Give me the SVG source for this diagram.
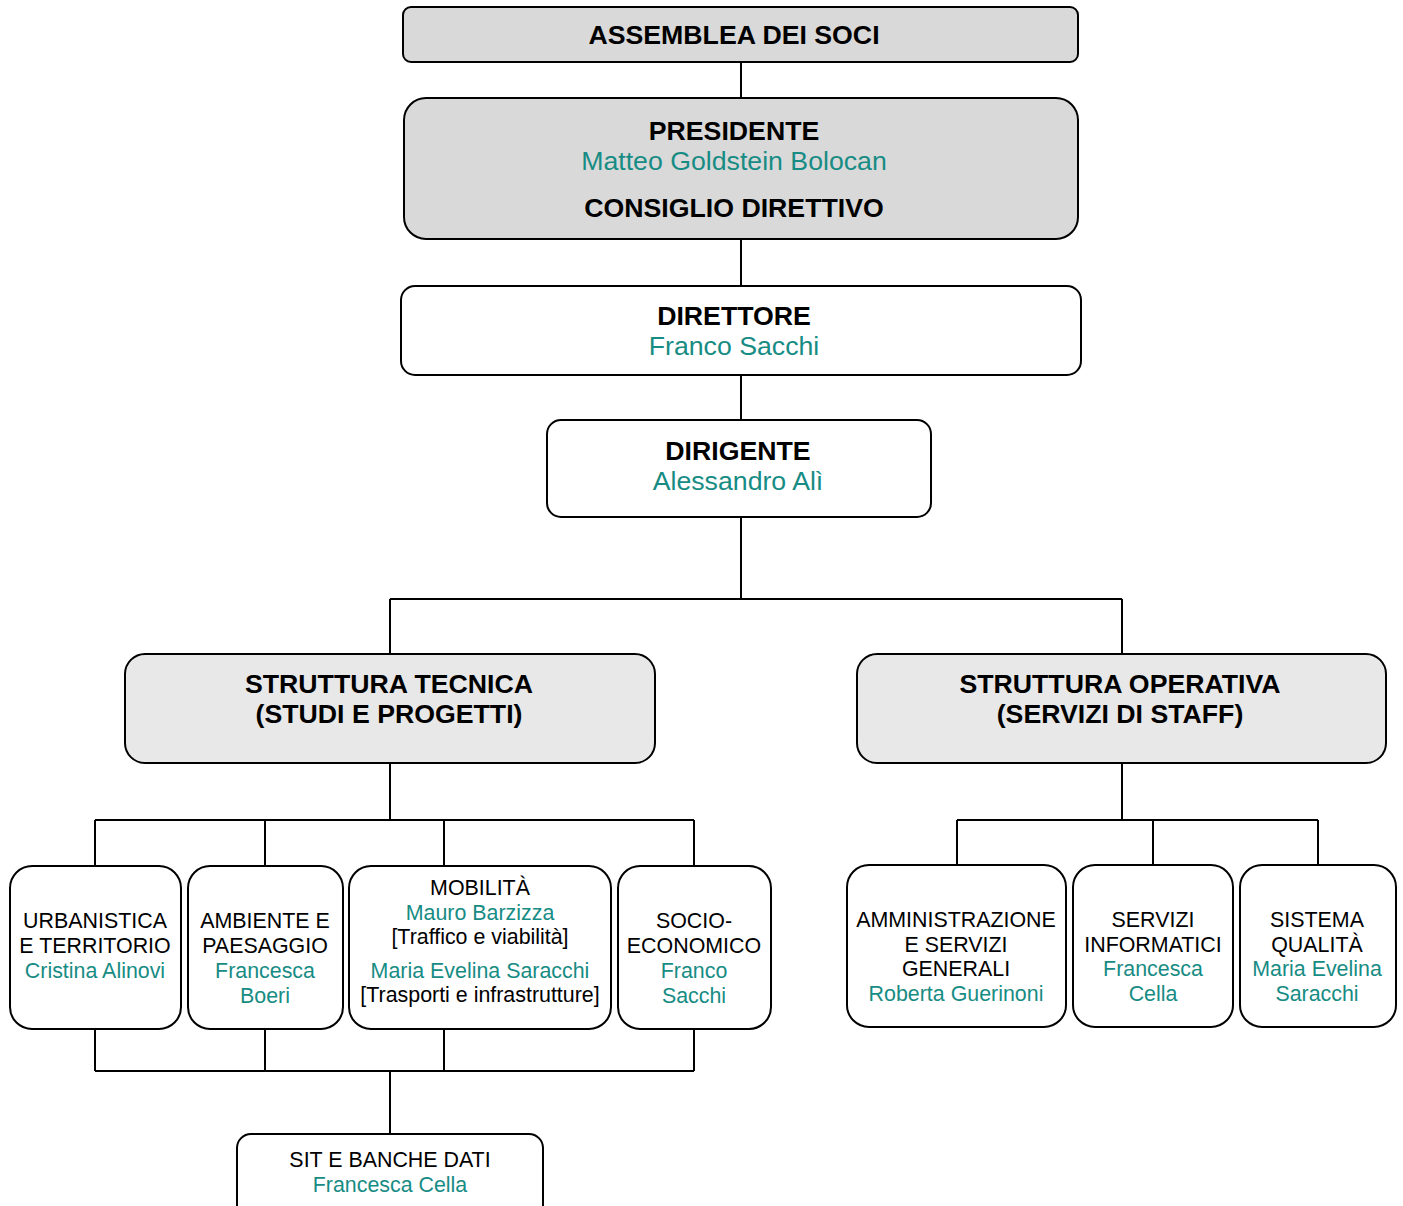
<svg xmlns="http://www.w3.org/2000/svg" width="1403" height="1206" viewBox="0 0 1403 1206">
<style>
.box{stroke:#000;stroke-width:2}
.g1{fill:#d9d9d9}
.g2{fill:#e8e8e8}
.w{fill:#fff}
text{font-family:"Liberation Sans",Arial,sans-serif;text-anchor:middle}
.h{font-size:26.7px;font-weight:bold;fill:#000}
.n{font-size:26.7px;fill:#178c84}
.s{font-size:21.4px;fill:#000}
.t{font-size:21.4px;fill:#178c84}
.c{fill:none;stroke:#000;stroke-width:2}
</style>
<rect width="1403" height="1206" fill="#fff"/>
<g id="connectors" class="c">
<path d="M741 62V98M741 239V286M741 375V420M741 517V599M390 599H1122M390 599V654M1122 599V654"/>
<path d="M390 763V820M95 820H694M95 820V866M265 820V866M444 820V866M694 820V866"/>
<path d="M95 1029V1071M265 1029V1071M444 1029V1071M694 1029V1071M95 1071H694M390 1071V1134"/>
<path d="M1122 763V820M957 820H1318M957 820V865M1153 820V865M1318 820V865"/>
</g>
<g id="assemblea"><rect class="box g1" x="403" y="7" width="675" height="55" rx="8"/><text class="h" x="734" y="44">ASSEMBLEA DEI SOCI</text></g>
<g id="presidente"><rect class="box g1" x="404" y="98" width="674" height="141" rx="22"/><text class="h" x="734" y="140">PRESIDENTE</text><text class="n" x="734" y="170">Matteo Goldstein Bolocan</text><text class="h" x="734" y="217">CONSIGLIO DIRETTIVO</text></g>
<g id="direttore"><rect class="box w" x="401" y="286" width="680" height="89" rx="14"/><text class="h" x="734" y="325">DIRETTORE</text><text class="n" x="734" y="355">Franco Sacchi</text></g>
<g id="dirigente"><rect class="box w" x="547" y="420" width="384" height="97" rx="14"/><text class="h" x="738" y="460">DIRIGENTE</text><text class="n" x="738" y="490">Alessandro Alì</text></g>
<g id="tecnica"><rect class="box g2" x="125" y="654" width="530" height="109" rx="20"/><text class="h" x="389" y="693">STRUTTURA TECNICA</text><text class="h" x="389" y="723">(STUDI E PROGETTI)</text></g>
<g id="operativa"><rect class="box g2" x="857" y="654" width="529" height="109" rx="20"/><text class="h" x="1120" y="693">STRUTTURA OPERATIVA</text><text class="h" x="1120" y="723">(SERVIZI DI STAFF)</text></g>
<g id="urbanistica"><rect class="box w" x="10" y="866" width="171" height="163" rx="22"/><text class="s" x="95" y="928">URBANISTICA</text><text class="s" x="95" y="953">E TERRITORIO</text><text class="t" x="95" y="978">Cristina Alinovi</text></g>
<g id="ambiente"><rect class="box w" x="188" y="866" width="155" height="163" rx="22"/><text class="s" x="265" y="928">AMBIENTE E</text><text class="s" x="265" y="953">PAESAGGIO</text><text class="t" x="265" y="978">Francesca</text><text class="t" x="265" y="1003">Boeri</text></g>
<g id="mobilita"><rect class="box w" x="349" y="866" width="262" height="163" rx="22"/><text class="s" x="480" y="895">MOBILITÀ</text><text class="t" x="480" y="920">Mauro Barzizza</text><text class="s" x="480" y="944">[Traffico e viabilità]</text><text class="t" x="480" y="978">Maria Evelina Saracchi</text><text class="s" x="480" y="1002">[Trasporti e infrastrutture]</text></g>
<g id="socio"><rect class="box w" x="618" y="866" width="153" height="163" rx="22"/><text class="s" x="694" y="928">SOCIO-</text><text class="s" x="694" y="953">ECONOMICO</text><text class="t" x="694" y="978">Franco</text><text class="t" x="694" y="1003">Sacchi</text></g>
<g id="sit"><rect class="box w" x="237" y="1134" width="306" height="90" rx="14"/><text class="s" x="390" y="1167">SIT E BANCHE DATI</text><text class="t" x="390" y="1192">Francesca Cella</text></g>
<g id="amministrazione"><rect class="box w" x="847" y="865" width="219" height="162" rx="22"/><text class="s" x="956" y="927">AMMINISTRAZIONE</text><text class="s" x="956" y="952">E SERVIZI</text><text class="s" x="956" y="976">GENERALI</text><text class="t" x="956" y="1001">Roberta Guerinoni</text></g>
<g id="informatici"><rect class="box w" x="1073" y="865" width="160" height="162" rx="22"/><text class="s" x="1153" y="927">SERVIZI</text><text class="s" x="1153" y="952">INFORMATICI</text><text class="t" x="1153" y="976">Francesca</text><text class="t" x="1153" y="1001">Cella</text></g>
<g id="qualita"><rect class="box w" x="1240" y="865" width="156" height="162" rx="22"/><text class="s" x="1317" y="927">SISTEMA</text><text class="s" x="1317" y="952">QUALITÀ</text><text class="t" x="1317" y="976">Maria Evelina</text><text class="t" x="1317" y="1001">Saracchi</text></g>
</svg>
